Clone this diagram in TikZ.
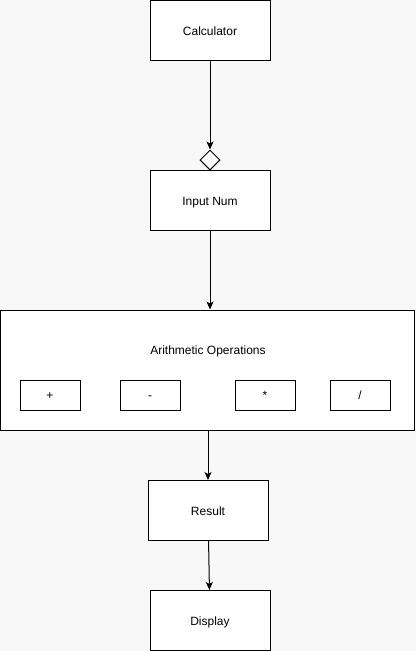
\documentclass[tikz,border=0pt]{standalone}
\usepackage{fontspec}
\setmainfont{Liberation Sans}
\usetikzlibrary{shapes.geometric,arrows.meta}
\definecolor{bgcolor}{HTML}{F8F8F8}
\begin{document}
\begin{tikzpicture}[x=1pt,y=-1pt]
    \tikzset{BoxStyle/.style={draw, fill=white, line width=1pt, inner sep=0pt,
            minimum width=120pt, minimum height=60pt, text height=10pt, text depth=1pt,
            font=\fontsize{12}{14}\selectfont},
        OpStyle/.style={BoxStyle, minimum width=60pt, minimum height=30pt},
        Conn/.style={line width=1pt, -{Stealth[length=8pt,width=7pt,inset=2pt]}}}
    \fill[bgcolor] (0,0) rectangle (416,651);
    \useasboundingbox (0,0) rectangle (416,651);
    \node[BoxStyle] (calc) at (210,30.5) {Calculator};
    \node[draw, fill=white, line width=1pt, diamond, inner sep=0pt,
        minimum width=20pt, minimum height=20pt] (dia) at (210,160) {};
    \node[BoxStyle] (input) at (210,200.5) {Input Num};
    \node[BoxStyle, minimum width=414pt, minimum height=120pt] (arith) at (207.5,370) {};
    \node[font=\fontsize{12}{14}\selectfont, text height=10pt, text depth=1pt] (arithlabel) at (208,350) {Arithmetic Operations};
    \node[OpStyle] (plus) at (50,395) {+};
    \node[OpStyle] (minus) at (150,395) {-};
    \node[OpStyle] (times) at (265,395) {*};
    \node[OpStyle] (divide) at (360,395) {/};
    \node[BoxStyle] (result) at (208,510.5) {Result};
    \node[BoxStyle] (display) at (210,620.5) {Display};
    \draw[Conn] (calc) -- (dia);
    \draw[Conn] (input.south) -- (arith.north -| input.south);
    \draw[Conn] (arith.south -| result.north) -- (result.north);
    \draw[Conn] (result) -- (display);
\end{tikzpicture}
\end{document}
